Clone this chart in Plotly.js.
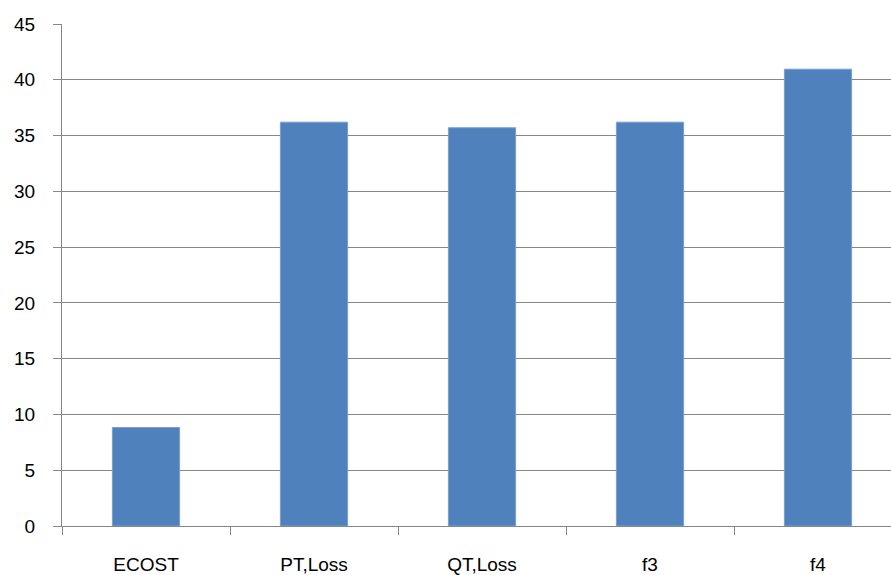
<!DOCTYPE html>
<html>
<head>
<meta charset="utf-8">
<script src="https://cdn.plot.ly/plotly-3.0.1.min.js"></script>
<style>html,body{margin:0;padding:0;background:#fff;}#chart{width:891px;height:575px;}</style>
</head>
<body>
<div id="chart"></div>
<script>
const categories = ["ECOST", "PT,Loss", "QT,Loss", "f3", "f4"];
const values = [8.83, 36.2, 35.7, 36.2, 40.95];
const yTicks = [0, 5, 10, 15, 20, 25, 30, 35, 40, 45];

const gridGray = "#868686";
const trace = {
  type: "bar",
  x: categories,
  y: values,
  width: 0.4,
  marker: { color: "#4F81BD", line: { color: "#7A9FD0", width: 1 } },
  hoverinfo: "skip"
};
const layout = {
  width: 891,
  height: 575,
  margin: { l: 62, r: 0, t: 24, b: 49 },
  paper_bgcolor: "#ffffff",
  plot_bgcolor: "#ffffff",
  showlegend: false,
  font: { family: "Liberation Sans, Arial, sans-serif", size: 19, color: "#000000" },
  xaxis: {
    type: "category",
    range: [-0.5, 4.4345],
    showline: true,
    linecolor: gridGray,
    linewidth: 1,
    ticks: "outside",
    tickson: "boundaries",
    ticklen: 8,
    tickcolor: gridGray,
    tickwidth: 1,
    showgrid: false,
    ticklabelstandoff: 21,
    tickfont: { size: 19 }
  },
  yaxis: {
    range: [0, 45],
    tickvals: yTicks,
    ticktext: yTicks.map(String),
    showline: true,
    linecolor: gridGray,
    linewidth: 1,
    ticks: "outside",
    ticklen: 8,
    tickcolor: gridGray,
    tickwidth: 1,
    showgrid: true,
    gridcolor: gridGray,
    gridwidth: 1,
    zeroline: false,
    ticklabelstandoff: 14,
    tickfont: { size: 19 }
  }
};
Plotly.newPlot("chart", [trace], layout, { staticPlot: true, displayModeBar: false });
</script>
</body>
</html>
